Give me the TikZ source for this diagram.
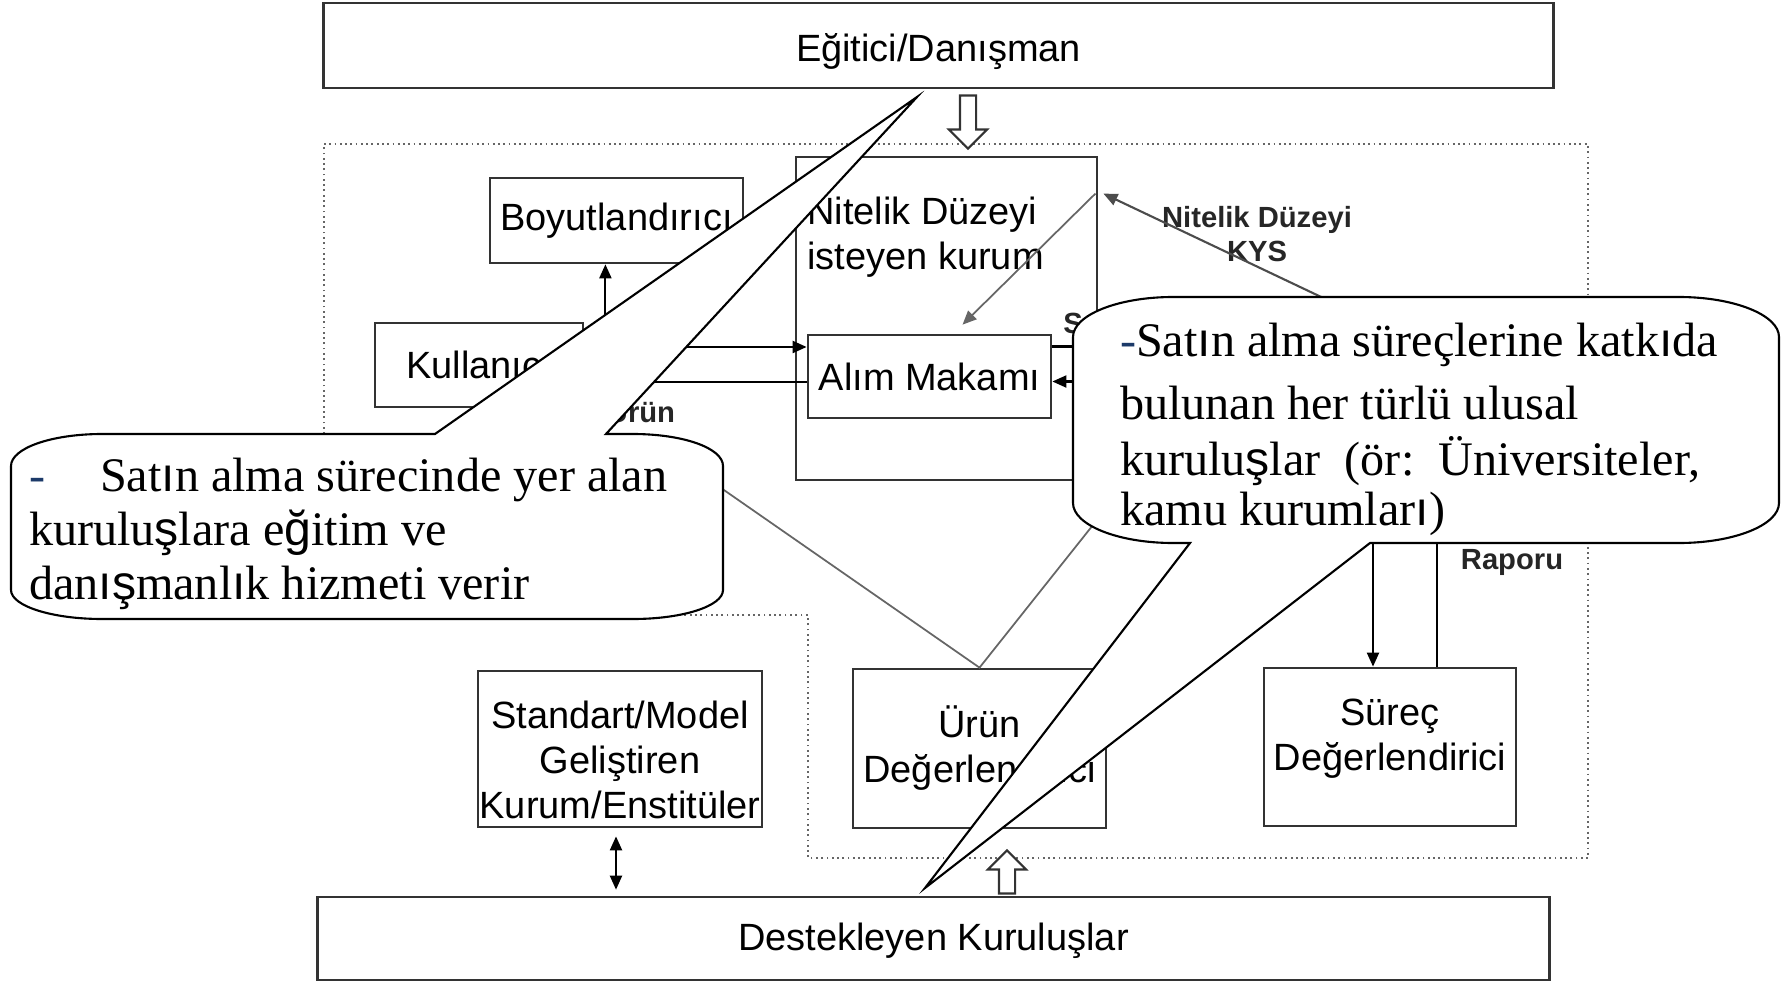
\documentclass[tikz,border=0pt]{standalone}
\usepackage{fontspec}
\setmainfont{Liberation Serif}
\setsansfont{Liberation Sans}
\newfontfamily\arialch{Liberation Sans}
\usetikzlibrary{calc,shapes,shapes.arrows,arrows.meta}
\definecolor{dashblue}{RGB}{28,58,105}
\newcommand{\altch}[1]{{\arialch #1}}

\begin{document}
\begin{tikzpicture}[x=0.01cm, y=-0.01cm, semithick, >={Triangle[length=0.14cm,width=0.12cm]},
  box/.style={draw=black!80, line width=0.75pt, inner sep=0pt, align=center,
    font=\sffamily\fontsize{10.8}{12.8}\selectfont},
  lbl/.style={inner sep=0pt, align=center, text=black!85,
    font=\sffamily\bfseries\fontsize{8.3}{9.8}\selectfont},
  thinline/.style={draw=black!60, line width=0.5pt},
  hollowarrow/.style={single arrow, draw=black!80, fill=white, line width=0.6pt,
    inner xsep=0pt, inner ysep=0.07cm, single arrow head extend=0.11cm},
  bubble/.style={draw=black, fill=white, line width=0.6pt},
  bubtxt/.style={inner sep=0pt, align=left, font=\fontsize{13.7}{15.3}\selectfont}]
  \useasboundingbox (0,0) rectangle (1782,982);

  % dotted region
  \draw [densely dotted, black!60, line width=0.5pt] (324,144) -- (1588,144) -- (1588,858)
    -- (808,858) -- (808,615) -- (324,615) -- cycle;

  \node [box, minimum width=12.29cm, minimum height=0.85cm, text height=0.4cm] (egitici) at (938.5,45.5) {Eğitici/Danışman};
  \node [box, minimum width=2.53cm, minimum height=0.85cm] (boyut) at (616.5,220.5) {Boyutlandırıcı};
  \node [box, minimum width=2.08cm, minimum height=0.84cm] (kullanici) at (479,365) {Kullanıcı};
  \node [box, minimum width=3.01cm, minimum height=3.23cm] (kurum) at (946.5,318.5) {};
  \node [box, draw=none, anchor=north west, align=left] (kurumtxt) at (806,196) {Nitelik Düzeyi\\isteyen kurum};
  \node [box, minimum width=2.43cm, minimum height=0.83cm] (alim) at (929.5,376.5) {Alım Makamı};
  \node [box, minimum width=2.84cm, minimum height=1.56cm] (standart) at (620,749) {};
  \node [box, draw=none] (standarttxt) at ([yshift=-0.11cm]standart.center) {Standart/Model\\Geliştiren\\Kurum/Enstitüler};
  \node [box, minimum width=2.53cm, minimum height=1.59cm] (urun) at (979.5,748.5) {Ürün\\Değerlendirici};
  \node [box, minimum width=2.52cm, minimum height=1.58cm] (surec) at (1390,747) {};
  \node [box, draw=none] (surectxt) at ([yshift=0.08cm]surec.center) {Süreç\\Değerlendirici};
  \node [box, minimum width=12.31cm, minimum height=0.83cm, text height=0.33cm] (destek) at (933.5,938.5) {Destekleyen Kuruluşlar};

  \node [hollowarrow, rotate=-90, minimum height=0.53cm] (downarrow) at (968,118) {};
  \node [hollowarrow, rotate=90, minimum height=0.43cm] (uparrow) at (1007,876) {};

  \node [lbl] (kyslbl) at (1257,234) {Nitelik Düzeyi\\KYS};
  \node [lbl] (slbl) at (1073,323) {S};
  \node [lbl] (urunlbl) at (641,410) {Ürün};
  \node [lbl] (raporlbl) at (1512,562) {Raporu};

  \coordinate (kout) at ([yshift=0.18cm]kullanici.east);
  \coordinate (kin) at ([yshift=-0.17cm]kullanici.east);
  \coordinate (split) at ([xshift=0.21cm]kout);
  \draw [->] (kout) -- (kout -| alim.west);
  \draw [->] (split) -- (split |- boyut.south);
  \draw [->] (kin -| alim.west) -- (kin);
  \draw [->, thinline] ([xshift=-0.03cm,yshift=-0.38cm]kurum.north east) -- ([xshift=0.33cm,yshift=0.09cm]alim.north);

  \draw [->] ([yshift=0.3cm]alim.east) -| ([xshift=-0.17cm]surec.north);
  \draw [->] ([xshift=0.47cm]surec.north) |- ([yshift=-0.05cm]alim.east);
  \coordinate (kysfrom) at (1437,352);
  \draw [->, draw=black!70] (kysfrom) -- ([xshift=0.05cm,yshift=-0.38cm]kurum.north east);

  \coordinate (urunfrom) at (698,472);
  \coordinate (urunto) at (1120,491);
  \draw [thinline] (urunfrom) -- (urun.north) -- (urunto);

  \coordinate (stddown) at (standart.south |- destek.north);
  \draw [<->, shorten <=0.08cm, shorten >=0.06cm] ([xshift=-0.04cm]standart.south) -- ([xshift=-0.04cm]stddown);

  % callouts
  \draw [bubble] (102,434) -- (435,434) -- (917,97) -- (606,434) -- (633,434)
    .. controls (683,434) and (723,448) .. (723,466) -- (723,590)
    .. controls (723,606) and (683,619) .. (633,619) -- (102,619)
    .. controls (52,619) and (11,606) .. (11,590) -- (11,466)
    .. controls (11,448) and (52,434) .. (102,434) -- cycle;
  \node [bubtxt, anchor=north west] (egittxt) at (28,457)
    {\textcolor{dashblue}{-}\hspace{0.55cm}Sat\altch{ı}n alma sürecinde yer alan\\kurulu\altch{ş}lara e\altch{ğ}itim ve\\dan\altch{ış}manl\altch{ı}k hizmeti verir};

  \draw [bubble] (1173,297) -- (1679,297)
    .. controls (1734,297) and (1779,315) .. (1779,337) -- (1779,503)
    .. controls (1779,525) and (1734,543) .. (1679,543) -- (1370,543)
    -- (925,888) -- (1190,543) -- (1173,543)
    .. controls (1118,543) and (1073,525) .. (1073,503) -- (1073,337)
    .. controls (1073,315) and (1118,297) .. (1173,297) -- cycle;
  \node [bubtxt, anchor=north west, font=\fontsize{13.7}{15.6}\selectfont] (kurtxt) at (1119,322)
    {\textcolor{dashblue}{-}Sat\altch{ı}n alma süreçlerine katk\altch{ı}da\\[0.08cm]bulunan her türlü ulusal\\[0.01cm]kurulu\altch{ş}lar\ \ (ör:\ \ Üniversiteler,\\[-0.05cm]kamu kurumlar\altch{ı})};
\end{tikzpicture}
\end{document}
